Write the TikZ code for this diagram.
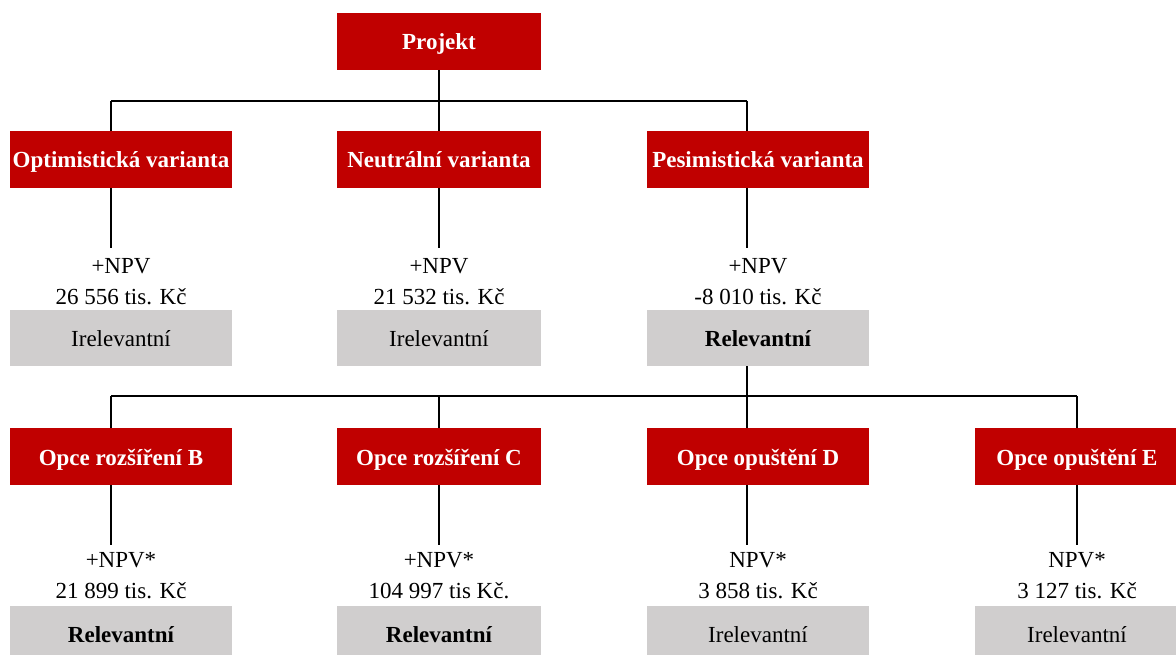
\documentclass[tikz,border=0pt]{standalone}
\usepackage{fontspec}
\setmainfont{Liberation Serif}
\definecolor{boxred}{RGB}{192,0,0}
\definecolor{boxgrey}{RGB}{208,206,206}
\begin{document}
\begin{tikzpicture}[x=1pt,y=-1pt,
  every node/.style={inner sep=0pt, outer sep=0pt},
  boxtext/.style={text height=20pt, text depth=3pt},
  redbox/.style={boxtext, fill=boxred, text=white, minimum height=57pt,
    font=\fontsize{23}{27}\selectfont\bfseries},
  greybox/.style={boxtext, fill=boxgrey, text=black, minimum height=56pt,
    font=\fontsize{23}{27}\selectfont},
  strong/.style={font=\fontsize{23}{27}\selectfont\bfseries},
  wide/.style={minimum width=222pt},
  narrow/.style={minimum width=204pt},
  valtext/.style={align=center, font=\fontsize{23}{31}\selectfont},
  conn/.style={draw=black, line width=1.6pt}]
\useasboundingbox (0,0) rectangle (1176,655);

% top level
\node[redbox, narrow] (proj) at (439,41.5) {Projekt};

% scenario level
\node[redbox, wide]   (opt) at (121,159.5) {Optimistická varianta};
\node[redbox, narrow] (neu) at (439,159.5) {Neutrální varianta};
\node[redbox, wide]   (pes) at (758,159.5) {Pesimistická varianta};

\node[valtext] (optv) at (121,281.5) {+NPV\\26 556 tis. Kč};
\node[valtext] (neuv) at (439,281.5) {+NPV\\21 532 tis. Kč};
\node[valtext] (pesv) at (758,281.5) {+NPV\\-8 010 tis. Kč};

\node[greybox, wide]   (optr) at (121,338) {Irelevantní};
\node[greybox, narrow] (neur) at (439,338) {Irelevantní};
\node[greybox, wide, strong] (pesr) at (758,338) {Relevantní};

% option level
\node[redbox, wide]   (optB) at (121,456.5) {Opce rozšíření B};
\node[redbox, narrow] (optC) at (439,456.5) {Opce rozšíření C};
\node[redbox, wide]   (optD) at (758,456.5) {Opce opuštění D};
\node[redbox, narrow] (optE) at (1077,456.5) {Opce opuštění E};

\node[valtext] (valB) at (121,575.5) {+NPV*\\21 899 tis. Kč};
\node[valtext] (valC) at (439,575.5) {+NPV*\\104 997 tis Kč.};
\node[valtext] (valD) at (758,575.5) {NPV*\\3 858 tis. Kč};
\node[valtext] (valE) at (1077,575.5) {NPV*\\3 127 tis. Kč};

\node[greybox, wide, strong]   (relB) at (121,634) {Relevantní};
\node[greybox, narrow, strong] (relC) at (439,634) {Relevantní};
\node[greybox, wide]   (relD) at (758,634) {Irelevantní};
\node[greybox, narrow] (relE) at (1077,634) {Irelevantní};

% branch positions
\coordinate (busA) at (111,101);
\coordinate (busB) at (747,101);
\coordinate (busC) at (111,396);
\coordinate (busD) at (1077,396);
\coordinate (xA) at (111,0);
\coordinate (xB) at (439,0);
\coordinate (xC) at (747,0);
\coordinate (xD) at (1077,0);
\coordinate (endA) at (0,248);
\coordinate (endB) at (0,545);

% first bus
\draw[conn] (proj.south) -- (proj.south |- busA);
\draw[conn] (busA) -- (busB);
\draw[conn] (busA) -- (busA |- opt.north);
\draw[conn] (xB |- busA) -- (xB |- neu.north);
\draw[conn] (busB) -- (busB |- pes.north);

\draw[conn] (xA |- opt.south) -- (xA |- endA);
\draw[conn] (xB |- neu.south) -- (xB |- endA);
\draw[conn] (xC |- pes.south) -- (xC |- endA);

% second bus
\draw[conn] (xC |- pesr.south) -- (xC |- optD.north);
\draw[conn] (busC) -- (busD);
\draw[conn] (busC) -- (busC |- optB.north);
\draw[conn] (xB |- busC) -- (xB |- optC.north);
\draw[conn] (busD) -- (busD |- optE.north);

\draw[conn] (xA |- optB.south) -- (xA |- endB);
\draw[conn] (xB |- optC.south) -- (xB |- endB);
\draw[conn] (xC |- optD.south) -- (xC |- endB);
\draw[conn] (xD |- optE.south) -- (xD |- endB);
\end{tikzpicture}
\end{document}
